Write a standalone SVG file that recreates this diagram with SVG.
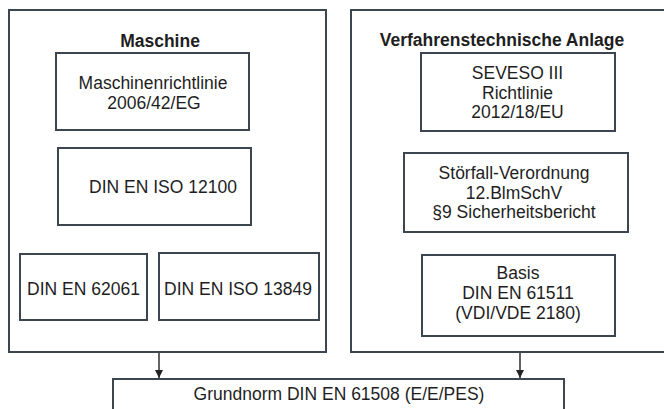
<svg xmlns="http://www.w3.org/2000/svg" width="664" height="409" viewBox="0 0 664 409">
<style>
.box{fill:#fff;stroke:#3b4650;stroke-width:2}
.t{font-family:"Liberation Sans",Arial,sans-serif;font-size:17.5px;fill:#1e1e1e;text-anchor:middle}
.b{font-weight:bold}
.c{stroke:#222;stroke-width:1.4;fill:none}
</style>
<defs>
<marker id="ah" viewBox="0 0 10 10" refX="10" refY="5" markerWidth="8" markerHeight="8" markerUnits="userSpaceOnUse" orient="auto">
<path d="M0,0 L10,5 L0,10 z" fill="#222"/>
</marker>
</defs>
<rect width="664" height="409" fill="#fff"/>
<g id="maschine">
<rect class="box" x="9" y="10" width="317" height="342"/>
<text class="t b" x="160" y="47">Maschine</text>
</g>
<g id="anlage">
<rect class="box" x="351" y="10" width="320" height="342"/>
<text class="t b" x="502" y="46">Verfahrenstechnische Anlage</text>
</g>
<g id="maschinenrichtlinie">
<rect class="box" x="56" y="53" width="193" height="77"/>
<text class="t" x="153" y="89">Maschinenrichtlinie</text>
<text class="t" x="154" y="109">2006/42/EG</text>
</g>
<g id="iso12100">
<rect class="box" x="58" y="148" width="193" height="77"/>
<text class="t" x="163" y="193">DIN EN ISO 12100</text>
</g>
<g id="en62061">
<rect class="box" x="20" y="254" width="127" height="66"/>
<text class="t" x="83.5" y="295">DIN EN 62061</text>
</g>
<g id="iso13849">
<rect class="box" x="159" y="253" width="160" height="67"/>
<text class="t" x="238" y="295">DIN EN ISO 13849</text>
</g>
<g id="seveso">
<rect class="box" x="421" y="53" width="194" height="78"/>
<text class="t" x="517.5" y="79">SEVESO III</text>
<text class="t" x="517.5" y="99">Richtlinie</text>
<text class="t" x="517.5" y="118">2012/18/EU</text>
</g>
<g id="stoerfall">
<rect class="box" x="404" y="153" width="224" height="79"/>
<text class="t" x="514" y="179">Störfall-Verordnung</text>
<text class="t" x="514" y="199">12.BlmSchV</text>
<text class="t" x="514" y="218">§9 Sicherheitsbericht</text>
</g>
<g id="basis">
<rect class="box" x="422" y="255" width="193" height="81"/>
<text class="t" x="518" y="279">Basis</text>
<text class="t" x="518" y="299">DIN EN 61511</text>
<text class="t" x="518" y="319">(VDI/VDE 2180)</text>
</g>
<g id="grundnorm">
<rect class="box" x="113" y="379" width="451" height="40"/>
<text class="t" x="339" y="400">Grundnorm DIN EN 61508 (E/E/PES)</text>
</g>
<g id="connectors">
<line class="c" x1="159" y1="353" x2="159" y2="378" marker-end="url(#ah)"/>
<line class="c" x1="520" y1="353" x2="520" y2="378" marker-end="url(#ah)"/>
</g>
</svg>
